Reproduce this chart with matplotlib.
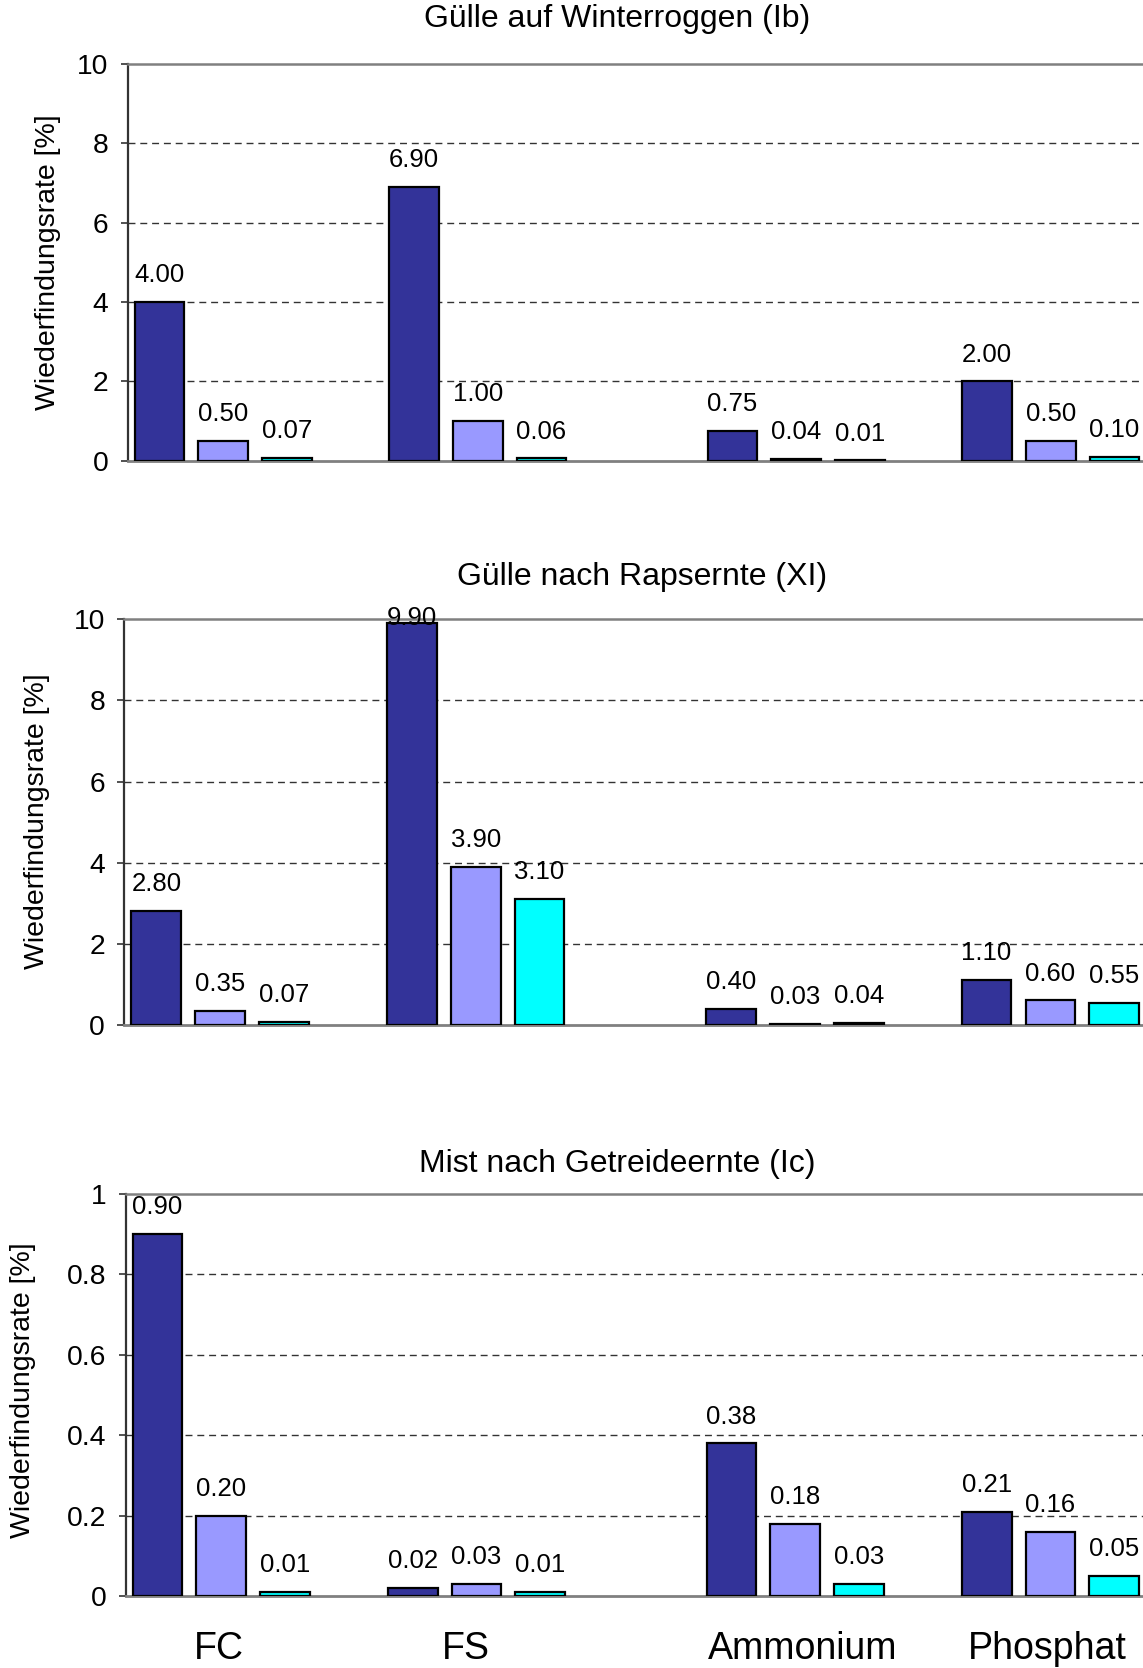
import numpy as np
import matplotlib
matplotlib.use("Agg")
import matplotlib.pyplot as plt
from matplotlib.ticker import FuncFormatter

plt.rcParams['font.family'] = ['Liberation Sans', 'DejaVu Sans']

# --- Daten ---
kategorien = ["FC", "FS", "Ammonium", "Phosphat"]
titel = ["Gülle auf Winterroggen (Ib)", "Gülle nach Rapsernte (XI)", "Mist nach Getreideernte (Ic)"]

ib_s1 = [4.00, 6.90, 0.75, 2.00]
ib_s2 = [0.50, 1.00, 0.04, 0.50]
ib_s3 = [0.07, 0.06, 0.01, 0.10]

xi_s1 = [2.80, 9.90, 0.40, 1.10]
xi_s2 = [0.35, 3.90, 0.03, 0.60]
xi_s3 = [0.07, 3.10, 0.04, 0.55]

ic_s1 = [0.90, 0.02, 0.38, 0.21]
ic_s2 = [0.20, 0.03, 0.18, 0.16]
ic_s3 = [0.01, 0.01, 0.03, 0.05]

ymax = [10, 10, 1]
ytick_step = [2, 2, 0.2]

# --- Layout ---
FARBEN = ['#333399', '#9999FF', '#00FFFF']
gruppen_x = np.array([1.5, 5.5, 10.5, 14.5])
label_versatz = np.array([-0.04, -0.17, 0.11, -0.05])  # Kategorienamen sitzen nicht ganz mittig
BREITE = 0.78

# [left, bottom, width, height] in Figurkoordinaten
achsen_pos = [
    [0.1117, 0.7237, 0.8883, 0.2380],
    [0.1089, 0.3856, 0.8911, 0.2431],
    [0.1099, 0.0430, 0.8901, 0.2412],
]
titel_pos = [(0.540, 0.9886), (0.5617, 0.6542), (0.540, 0.3020)]
ylabel_pos = [(0.042, 0.8429), (0.0324, 0.5074), (0.0205, 0.1667)]

fig = plt.figure(figsize=(11.43, 16.68), dpi=100)

daten = [(ib_s1, ib_s2, ib_s3), (xi_s1, xi_s2, xi_s3), (ic_s1, ic_s2, ic_s3)]

for p, serien in enumerate(daten):
    ax = fig.add_axes(achsen_pos[p])
    for k, werte in enumerate(serien):
        xs = gruppen_x + (k - 1)
        ax.bar(xs, werte, width=BREITE, color=FARBEN[k], edgecolor='black',
               linewidth=1.6, zorder=3)
        for x, v in zip(xs, werte):
            off = 14.3
            if p == 1 and v == 9.90:
                off = -1.5   # Beschriftung sitzt im Original direkt am Balken
            ax.annotate(f"{v:.2f}", (x, v), xytext=(0, off), textcoords='offset points',
                        ha='center', va='baseline', fontsize=18.5, zorder=4)

    ax.set_xlim(0, 15.95)
    ax.set_ylim(0, ymax[p])
    ticks = np.arange(0, ymax[p] + ytick_step[p] / 2, ytick_step[p])
    ax.set_yticks(ticks)
    ax.yaxis.set_major_formatter(FuncFormatter(lambda v, pos: f"{v:g}"))
    for t in ticks[1:-1]:
        ax.axhline(t, color='#333333', linewidth=1.0, linestyle=(0, (5, 3.5)), zorder=1)

    ax.tick_params(axis='y', direction='out', length=5, width=1.2, pad=9,
                   labelsize=20.3, color='#333333')
    ax.spines['left'].set_color('#333333')
    ax.spines['left'].set_linewidth(1.6)
    ax.spines['top'].set_color('#808080')
    ax.spines['top'].set_linewidth(1.8)
    ax.spines['bottom'].set_color('#808080')
    ax.spines['bottom'].set_linewidth(2.0)
    ax.spines['right'].set_visible(False)

    if p == 2:
        ax.set_xticks(gruppen_x + label_versatz)
        ax.set_xticklabels(kategorien, fontsize=27)
        ax.tick_params(axis='x', length=0, pad=25)
    else:
        ax.set_xticks([])

    fig.text(titel_pos[p][0], titel_pos[p][1], titel[p], ha='center', va='center', fontsize=23)
    fig.text(ylabel_pos[p][0], ylabel_pos[p][1], "Wiederfindungsrate [%]", rotation=90,
             ha='center', va='center', fontsize=20.5)

fig.savefig("out.png", dpi=100)
